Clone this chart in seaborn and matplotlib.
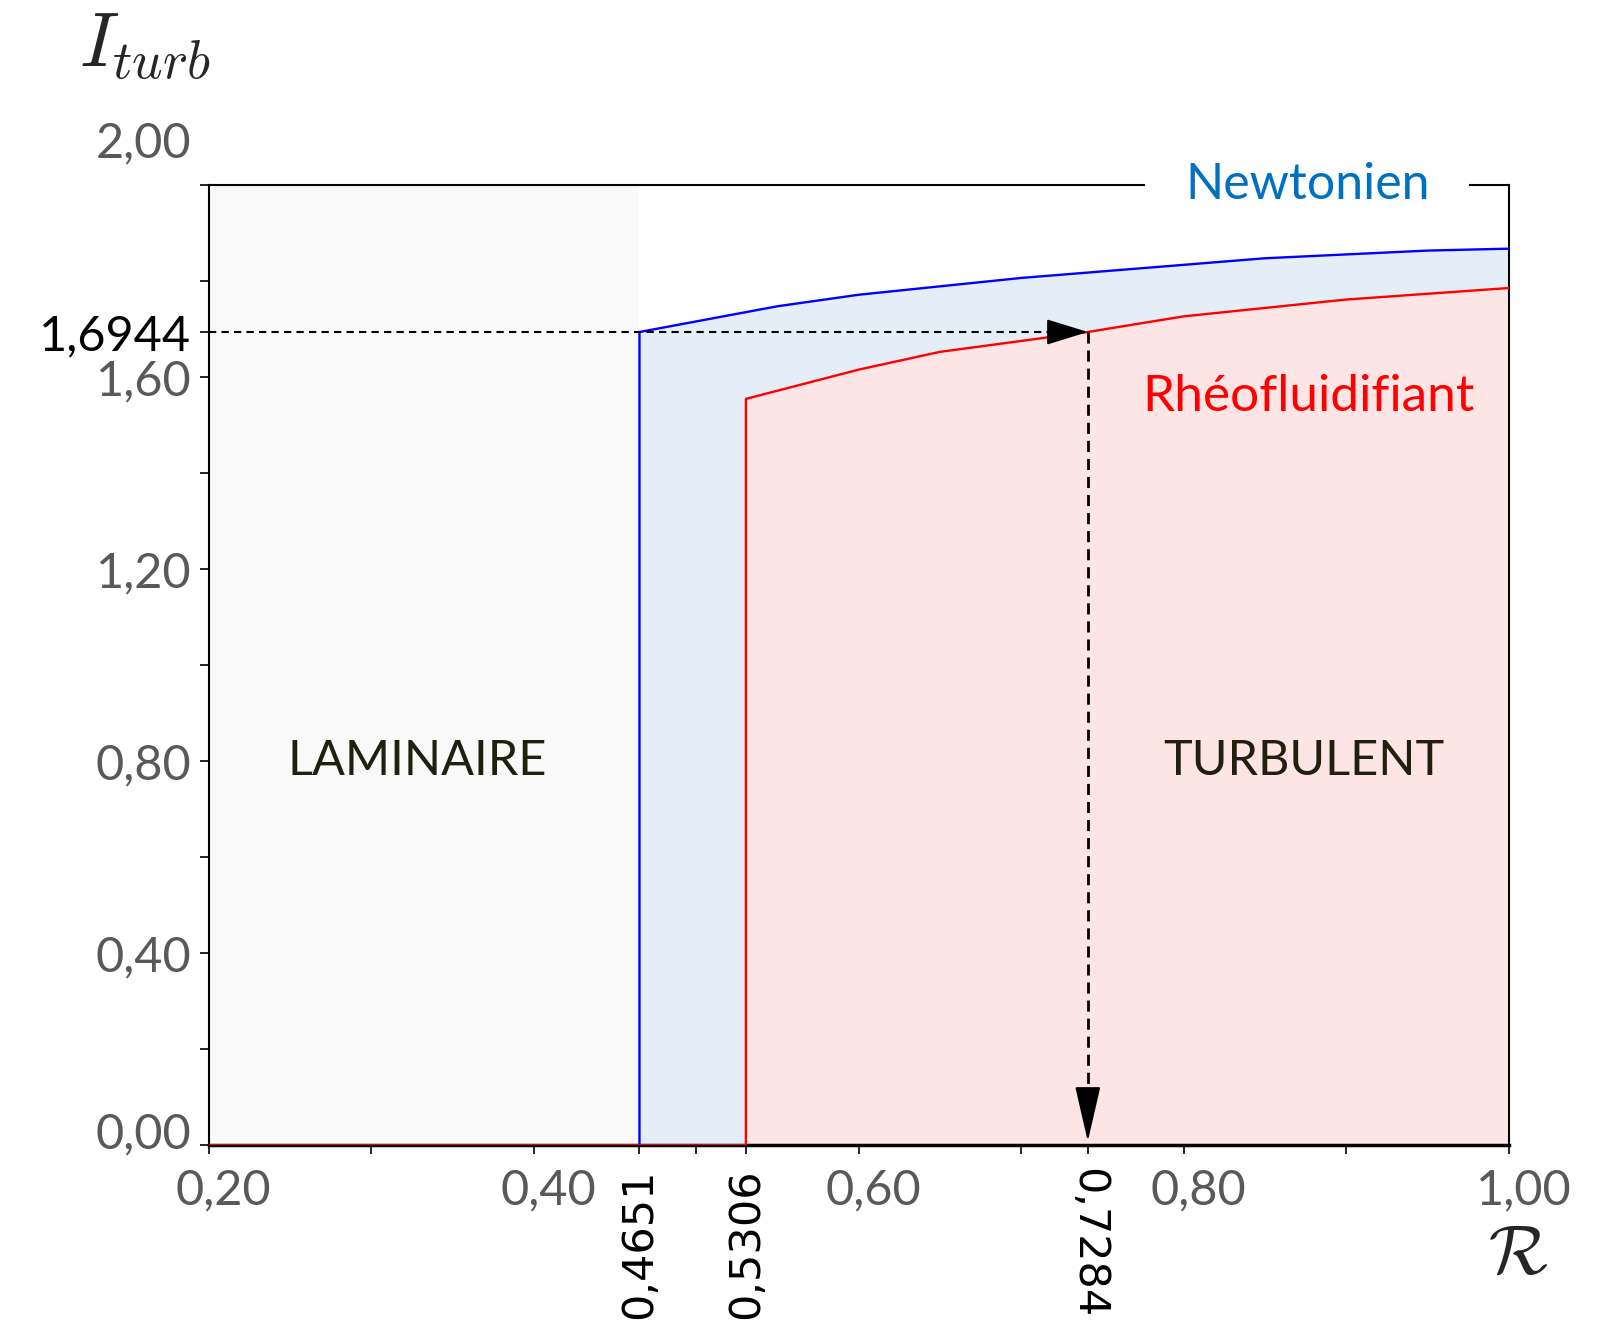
import numpy as np
import pandas as pd
import seaborn as sns
import matplotlib.pyplot as plt
from matplotlib.transforms import ScaledTranslation

# values read on the chart
r_newton = 0.4651   # start of turbulent regime, newtonian fluid
r_rheo = 0.5306     # start of turbulent regime, shear-thinning fluid
r_point = 0.741     # where the arrow is drawn (labelled 0,7284 on the chart)
i_point = 1.6944

newton_r = [0.20, 0.4651, 0.4651, 0.55, 0.60, 0.70, 0.85, 0.95, 1.00]
newton_i = [0.0, 0.0, 1.6944, 1.748, 1.772, 1.807, 1.848, 1.864, 1.868]

rheo_r = [0.20, 0.5306, 0.5306, 0.60, 0.65, 0.741, 0.80, 0.90, 1.00]
rheo_i = [0.0, 0.0, 1.555, 1.616, 1.653, 1.6944, 1.727, 1.762, 1.786]

x_ticks = [0.20, 0.40, 0.60, 0.80, 1.00]
x_labels = ['0,20', '0,40', '0,60', '0,80', '1,00']
x_minor = [0.3, 0.5, 0.7, 0.9]
y_ticks = [0.0, 0.4, 0.8, 1.2, 1.6, 2.0]
y_labels = ['0,00', '0,40', '0,80', '1,20', '1,60', '2,00']
y_minor = [0.2, 0.6, 1.0, 1.4, 1.8]

sns.set_theme(style='white')
plt.rcParams['font.family'] = ['Lato', 'DejaVu Sans']
plt.rcParams['mathtext.fontset'] = 'cm'

fig = plt.figure(figsize=(15.98, 13.37), dpi=100)
ax = fig.add_axes([0.1306, 0.1434, 0.8135, 0.718])

# regions
ax.axvspan(0.2, r_newton, color='#f9f9f9', lw=0, zorder=0)
ax.fill_between(newton_r, newton_i, color='#e5edf7', lw=0, zorder=1)
ax.fill_between(rheo_r, rheo_i, color='#fde4e5', lw=0, zorder=1.1)

sns.lineplot(x=newton_r, y=newton_i, sort=False, estimator=None,
             color='#0000ff', lw=1.7, ax=ax, zorder=3)
sns.lineplot(x=rheo_r, y=rheo_i, sort=False, estimator=None,
             color='#ff0000', lw=1.7, ax=ax, zorder=3.1)

# reading of the operating point
ax.plot([0.2, r_point - 0.02], [i_point, i_point], color='black',
        lw=1.5, ls=(0, (3.5, 2.5)), zorder=4)
ax.plot([r_point, r_point], [i_point, 0.1], color='black',
        lw=2, ls=(0, (4, 2.5)), zorder=4)
ax.annotate('', xy=(r_point, i_point), xytext=(r_point - 0.022, i_point),
            arrowprops=dict(arrowstyle='-|>,head_length=1.0,head_width=0.31',
                            mutation_scale=26, color='black', lw=1.5,
                            shrinkA=0, shrinkB=0), zorder=5)
ax.annotate('', xy=(r_point, 0.008), xytext=(r_point, 0.11),
            arrowprops=dict(arrowstyle='-|>,head_length=1.0,head_width=0.23',
                            mutation_scale=35, color='black', lw=1.5,
                            shrinkA=0, shrinkB=0), zorder=5)

ax.set_xlim(0.2, 1.0)
ax.set_ylim(0, 2.0)
ax.set_xlabel('')
ax.set_ylabel('')

ax.set_xticks(x_ticks + [r_newton, r_rheo, r_point])
ax.set_xticklabels(x_labels + ['0,4651', '0,5306', '0,7284'])
ax.set_xticks(x_minor, minor=True)
ax.set_yticks(y_ticks + [i_point])
ax.set_yticklabels(y_labels + ['1,6944'])
ax.set_yticks(y_minor, minor=True)

ax.tick_params(axis='both', which='both', direction='out', length=6.5,
               width=1.2, color='black', bottom=True, left=True)
ax.tick_params(axis='x', which='major', pad=10, labelsize=35, labelcolor='#595959')
ax.tick_params(axis='y', which='major', pad=6, labelsize=35, labelcolor='#595959')

for sp in ax.spines.values():
    sp.set_color('black')
    sp.set_linewidth(1.5)
ax.spines['bottom'].set_linewidth(2.5)

# special tick labels
xt = ax.get_xticklabels()
for lab in xt[:5]:
    lab.set_transform(lab.get_transform() + ScaledTranslation(0.15, 0, fig.dpi_scale_trans))
for lab, rot in zip(xt[5:], [90, 90, 270]):
    lab.set_rotation(rot)
    lab.set_color('black')
    lab.set_fontfamily('DejaVu Sans')
    lab.set_fontsize(31)

yt = ax.get_yticklabels()
yt[0].set_transform(yt[0].get_transform() + ScaledTranslation(0, 0.15, fig.dpi_scale_trans))
yt[5].set_transform(yt[5].get_transform() + ScaledTranslation(0, 0.46, fig.dpi_scale_trans))
yt[6].set_color('black')

# texts
ax.text(0.3285, 0.80, 'LAMINAIRE', ha='center', va='center', color='#20200f', fontsize=35)
ax.text(0.874, 0.80, 'TURBULENT', ha='center', va='center', color='#20200f', fontsize=35)
ax.text(0.8765, 1.558, 'Rhéofluidifiant', ha='center', va='center', color='#ff0000', fontsize=37)
ax.text(0.876, 2.0, 'Newtonien', ha='center', va='center', color='#0070c0', fontsize=36,
        bbox=dict(boxstyle='square,pad=0.8', fc='white', ec='none'), zorder=2.8, clip_on=False)

fig.text(145 / 1598, 1 - 47 / 1337, r'$I_{turb}$', fontsize=55, ha='center', va='center')
fig.text(1518 / 1598, 1 - 1253 / 1337, r'$\mathcal{R}$', fontsize=50, ha='center', va='center')

fig.savefig('out.png', dpi=100)
